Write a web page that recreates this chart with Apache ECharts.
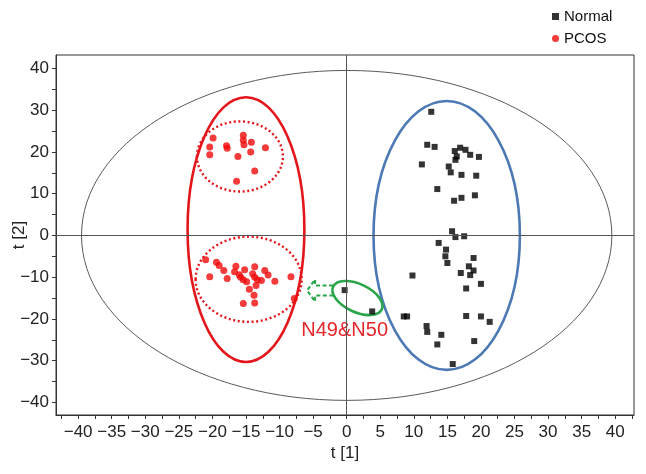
<!DOCTYPE html>
<html>
<head>
<meta charset="utf-8">
<script src="https://cdn.jsdelivr.net/npm/echarts@6/dist/echarts.min.js"></script>
<style>
html,body{margin:0;padding:0;background:#fff;}
#chart{width:646px;height:474px;}
</style>
</head>
<body>
<div id="chart"></div>
<script>
// ---- Data (score values t[1], t[2]) ----
const normalPoints = [
  [12.6,29.6],[12.0,21.7],[13.1,21.2],[11.2,17.0],[16.1,20.2],[16.9,21.0],[17.7,20.5],[18.4,19.3],
  [19.7,18.8],[16.4,18.9],[16.2,18.1],[15.2,16.5],[15.5,15.1],[17.1,14.5],[19.3,14.3],[13.5,11.1],
  [17.1,9.0],[16.0,8.3],[19.1,9.6],[15.7,1.0],[16.2,-0.4],[17.5,-0.2],[13.7,-1.8],[14.8,-3.4],
  [14.7,-5.0],[15.0,-6.6],[18.9,-5.4],[18.2,-7.4],[18.9,-8.4],[17.0,-9.0],[18.4,-9.5],[9.8,-9.6],
  [20.0,-11.6],[17.8,-12.7],[-0.3,-13.1],[3.8,-18.2],[8.5,-19.4],[9.0,-19.4],[17.8,-19.3],[20.0,-19.4],
  [21.3,-20.7],[11.9,-21.7],[12.0,-23.1],[14.1,-23.8],[13.5,-26.1],[19.0,-25.3],[15.8,-30.8]
];
const pcosPoints = [
  // upper cluster
  [-19.9,23.3],[-20.4,21.2],[-20.4,19.3],[-17.9,21.5],[-17.8,20.9],[-15.4,24.0],[-15.4,22.8],
  [-15.3,21.7],[-14.2,22.3],[-14.3,20.0],[-16.2,18.9],[-12.1,21.0],[-13.7,15.4],[-16.4,13.0],
  // lower cluster
  [-21.0,-5.8],[-19.4,-6.4],[-19.0,-7.2],[-20.4,-9.9],[-18.3,-8.4],[-17.8,-10.3],[-16.5,-7.4],
  [-16.7,-8.7],[-15.2,-8.2],[-15.8,-10.0],[-15.4,-10.6],[-14.9,-11.1],[-13.7,-7.5],[-14.0,-9.2],
  [-13.7,-10.0],[-13.3,-10.6],[-12.2,-8.4],[-11.7,-9.5],[-10.7,-11.0],[-12.7,-10.8],[-13.5,-12.0],
  [-14.5,-12.9],[-13.8,-14.3],[-15.4,-16.3],[-13.7,-16.2],[-8.3,-9.9],[-7.8,-15.1],[-16.0,-9.4]
];
const seriesNames = ['Normal', 'PCOS'];
const xLabelValues = [-40,-35,-30,-25,-20,-15,-10,-5,0,5,10,15,20,25,30,35,40];
const xTickValues = [-42.5,-40,-37.5,-35,-32.5,-30,-27.5,-25,-22.5,-20,-17.5,-15,-12.5,-10,-7.5,-5,-2.5,0,
  2.5,5,7.5,10,12.5,15,17.5,20,22.5,25,27.5,30,32.5,35,37.5,40,42.5];
const yLabelValues = [-40,-30,-20,-10,0,10,20,30,40];
const yTickValues = [-40,-35,-30,-25,-20,-15,-10,-5,0,5,10,15,20,25,30,35,40];
// ellipses: [centerX, centerY, radiusX, radiusY, rotationDeg]
const hotellingEllipse = [0, 0, 39.5, 39.5, 0];
const pcosEllipse = [-15.0, 1.4, 8.7, 31.7, 0];
const pcosUpperEllipse = [-15.9, 18.9, 6.4, 8.4, 0];
const pcosLowerEllipse = [-14.6, -10.5, 7.9, 10.2, 0];
const normalEllipse = [14.9, 0.0, 10.9, 32.2, 0];
const outlierEllipse = [1.6, -15.0, 4.0, 3.35, -25];
const annotationText = 'N49&N50';
const annotationPos = [-0.3, -22.7];
const arrowTip = [-5.9, -13.2];

// ---- Styles ----
const FONT = '"Liberation Sans", Arial, Helvetica, sans-serif';
const ellipseData = [hotellingEllipse, pcosEllipse, pcosUpperEllipse, pcosLowerEllipse, normalEllipse, outlierEllipse];
const ellipseStyles = [
  {stroke:'#5a5a5a', lineWidth:1, fill:null},
  {stroke:'#e3161b', lineWidth:2.6, fill:null},
  {stroke:'#e3161b', lineWidth:2.4, fill:null, lineDash:[2,2.6]},
  {stroke:'#e3161b', lineWidth:2.4, fill:null, lineDash:[2,2.6]},
  {stroke:'#4c79b4', lineWidth:2.6, fill:null},
  {stroke:'#2aa549', lineWidth:2.6, fill:null}
];

const chart = echarts.init(document.getElementById('chart'), null, {renderer:'canvas'});
const fmt = v => (v < 0 ? '\u2212' + (-v) : String(v));

chart.setOption({
  animation: false,
  backgroundColor: '#fff',
  textStyle: {fontFamily: FONT},
  grid: {left:56, right:12, top:55, bottom:59, show:true, borderColor:'#333', borderWidth:1,
         containLabel:false, outerBoundsMode:'none'},
  legend: {
    orient:'vertical', left:547, top:4, itemWidth:7, itemHeight:7, itemGap:7,
    textStyle:{fontSize:15, color:'#111', fontFamily:FONT},
    data:[{name:'Normal', icon:'rect'}, {name:'PCOS', icon:'circle'}]
  },
  xAxis: {
    type:'value', min:-43.3, max:42.8,
    axisLine:{onZero:false, lineStyle:{color:'#333', width:1}},
    axisTick:{show:true, customValues:xTickValues, length:4, lineStyle:{color:'#333'}},
    axisLabel:{customValues:xLabelValues, formatter:fmt, fontSize:17, color:'#222', margin:9, fontFamily:FONT},
    splitLine:{show:false},
    name:'t [1]', nameLocation:'middle', nameGap:30, nameMoveOverlap:false,
    nameTextStyle:{fontSize:17, color:'#222', fontFamily:FONT}
  },
  yAxis: {
    type:'value', min:-43, max:43.2,
    axisLine:{onZero:false, lineStyle:{color:'#333', width:1}},
    axisTick:{show:true, customValues:yTickValues, length:4, lineStyle:{color:'#333'}},
    axisLabel:{customValues:yLabelValues, formatter:fmt, fontSize:17, color:'#222', margin:7, fontFamily:FONT},
    splitLine:{show:false},
    name:'t [2]', nameLocation:'middle', nameGap:28, nameRotate:90, nameMoveOverlap:false,
    nameTextStyle:{fontSize:17, color:'#222', fontFamily:FONT}
  },
  series: [
    {
      type:'custom', name:'ellipses', silent:true, z:1,
      data: ellipseData,
      encode:{x:0, y:1},
      renderItem: function(params, api) {
        const c = api.coord([api.value(0), api.value(1)]);
        const rx = api.size([api.value(2), 0])[0];
        const ry = api.size([0, api.value(3)])[1];
        const rot = api.value(4) * Math.PI / 180;
        return {
          type:'ellipse',
          x:c[0], y:c[1], rotation:rot,
          shape:{cx:0, cy:0, rx:rx, ry:ry},
          style: ellipseStyles[params.dataIndex]
        };
      },
      markLine: {
        silent:true, symbol:'none', label:{show:false},
        lineStyle:{color:'#555', width:1, type:'solid'},
        data:[{xAxis:0}, {yAxis:0}]
      }
    },
    {
      type:'custom', name:'annotation', silent:true, z:3,
      data:[arrowTip.concat(annotationPos)],
      encode:{x:0, y:1},
      renderItem: function(params, api) {
        const t = api.coord([api.value(0), api.value(1)]);
        const p = api.coord([api.value(2), api.value(3)]);
        const pts = [[26,-5],[8,-5],[8,-11],[0,0],[8,11],[8,5],[26,5]].map(d => [t[0]+d[0], t[1]+d[1]]);
        return {
          type:'group',
          children:[
            {type:'polyline', shape:{points:pts}, style:{stroke:'#2aa549', lineWidth:2, fill:null, lineDash:[4,2.5]}},
            {type:'text', x:p[0], y:p[1], style:{text:annotationText, fill:'#e3262b', fontSize:20, fontFamily:FONT, align:'center', verticalAlign:'middle'}}
          ]
        };
      }
    },
    {
      type:'scatter', name:seriesNames[0], data:normalPoints, symbol:'rect', symbolSize:6, z:4,
      itemStyle:{color:'#000'}
    },
    {
      type:'scatter', name:seriesNames[1], data:pcosPoints, symbol:'circle', symbolSize:7, z:4,
      itemStyle:{color:'#f00a0a'}
    }
  ]
});
</script>
</body>
</html>
